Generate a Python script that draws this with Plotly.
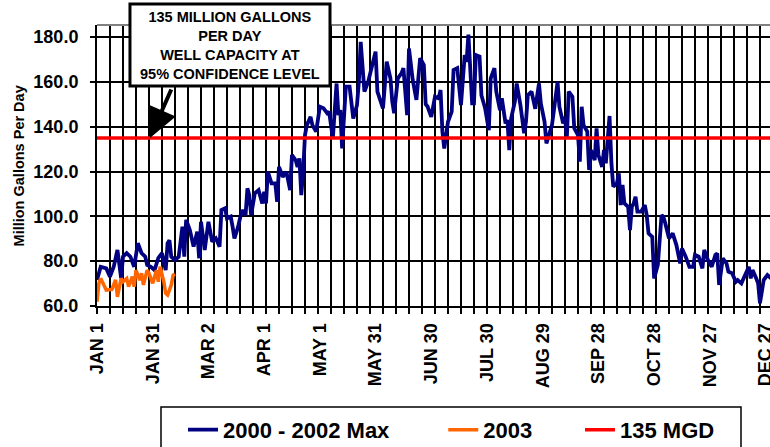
import plotly.graph_objects as go

# ---- data ----
tick_days = [0, 30, 60, 90, 120, 150, 180, 210, 240, 270, 300, 330, 360]
tick_labels = ["JAN 1", "JAN 31", "MAR 2", "APR 1", "MAY 1", "MAY 31", "JUN 30",
               "JUL 30", "AUG 29", "SEP 28", "OCT 28", "NOV 27", "DEC 27"]

max_days = [0, 2, 5, 7, 9, 10, 11, 13, 14, 16, 18, 20, 22, 24, 26, 27, 29, 31, 33, 35,
            37, 38, 39, 40, 42, 44, 46, 47, 48, 50, 52, 54, 55, 56, 58, 60, 62, 64, 66, 67,
            69, 70, 72, 73, 74, 76, 78, 80, 81, 82, 83, 85, 87, 89, 90, 91, 92, 94, 96, 97,
            98, 100, 102, 104, 105, 107, 108, 109, 110, 111, 112, 113, 115, 116, 118, 120, 122, 124, 125, 127,
            128, 129, 130, 131, 132, 133, 134, 136, 138, 140, 141, 142, 144, 146, 148, 150, 151, 152, 154, 156,
            158, 159, 160, 162, 164, 165, 167, 168, 170, 172, 174, 176, 177, 178, 180, 182, 184, 185, 186, 187,
            189, 191, 192, 194, 195, 196, 198, 199, 200, 202, 203, 204, 206, 207, 209, 211, 212, 214, 215, 217,
            218, 220, 221, 222, 223, 225, 226, 228, 230, 231, 232, 234, 236, 238, 239, 241, 242, 244, 245, 248,
            249, 251, 252, 253, 254, 256, 257, 259, 260, 261, 262, 264, 265, 266, 268, 269, 270, 272, 273, 274,
            275, 276, 277, 278, 280, 281, 282, 283, 284, 286, 287, 288, 289, 290, 291, 293, 295, 296, 297, 299,
            300, 302, 304, 305, 306, 308, 310, 312, 314, 315, 317, 319, 321, 322, 324, 326, 327, 329, 331, 333,
            334, 335, 337, 339, 340, 342, 344, 345, 347, 349, 351, 352, 353, 355, 356, 357, 359, 361, 363]
max_values = [71.6, 77.5, 76.8, 73.1, 77.5, 82.0, 85.0, 72.5, 82.0, 83.6, 82.0, 77.5, 88.0, 83.6, 82.0, 78.3, 77.5, 76.0, 81.4, 83.6,
              76.0, 88.0, 89.4, 82.0, 80.5, 82.0, 95.4, 82.0, 98.4, 93.9, 86.5, 93.2, 81.3, 97.6, 85.0, 97.6, 88.7, 90.2, 86.5, 102.8,
              103.6, 99.1, 99.9, 95.4, 90.2, 95.4, 102.8, 100.6, 112.5, 109.5, 100.6, 110.3, 111.7, 105.8, 111.0, 105.8, 119.9, 114.7, 114.7, 106.5,
              122.1, 117.6, 119.9, 111.7, 127.4, 125.0, 122.0, 125.9, 109.5, 119.9, 136.3, 140.7, 144.4, 140.7, 137.8, 148.9, 148.2, 146.0, 146.7, 134.8,
              146.7, 159.3, 145.2, 147.4, 130.3, 145.2, 157.9, 157.9, 143.7, 149.6, 160.0, 177.9, 155.7, 160.0, 167.5, 173.5, 155.7, 153.4, 148.2, 169.0,
              161.6, 151.2, 146.0, 161.6, 163.9, 166.1, 145.2, 174.9, 161.0, 152.0, 170.6, 167.5, 150.0, 149.0, 144.4, 153.4, 152.7, 156.4, 137.8, 130.3,
              142.2, 146.7, 165.3, 166.1, 156.4, 149.7, 172.0, 169.0, 181.1, 150.4, 150.4, 172.0, 171.3, 154.1, 148.2, 138.5, 161.6, 166.1, 155.7, 147.4,
              152.7, 141.5, 143.0, 129.6, 143.7, 151.2, 159.3, 149.7, 137.1, 142.2, 154.1, 155.7, 148.0, 159.3, 150.4, 142.2, 132.6, 138.5, 140.7, 160.0,
              148.9, 141.5, 144.4, 134.8, 155.7, 153.4, 139.3, 136.3, 124.4, 148.9, 140.7, 137.8, 120.7, 129.6, 125.1, 139.3, 127.4, 122.1, 129.6, 123.7,
              134.0, 144.8, 123.7, 113.3, 114.8, 119.2, 105.0, 114.0, 105.8, 104.3, 93.9, 104.3, 105.8, 108.8, 102.1, 102.1, 105.0, 100.6, 92.4, 90.9,
              72.3, 78.3, 100.6, 99.8, 96.9, 90.2, 92.4, 87.2, 79.0, 85.7, 82.0, 77.5, 77.5, 82.8, 82.0, 76.8, 85.0, 80.5, 77.5, 82.8,
              83.5, 69.4, 81.3, 79.0, 75.3, 74.6, 70.8, 71.6, 70.1, 73.8, 77.5, 72.3, 76.0, 72.3, 70.1, 61.2, 71.6, 73.8, 72.3]

y2003_days = [0, 1, 2, 4, 5, 8, 10, 11, 13, 14, 16, 17, 19, 20, 21, 23, 24, 25, 27, 28,
              30, 32, 33, 34, 36, 37, 38, 40, 41, 42]
y2003_values = [61.9, 70.1, 72.3, 68.6, 67.1, 67.4, 71.6, 64.1, 72.3, 70.8, 72.3, 68.6, 73.1, 68.6, 76.0, 71.6, 74.6, 69.4, 76.0, 74.6,
                70.1, 76.0, 70.8, 77.5, 70.8, 65.6, 64.9, 69.4, 73.8, 74.3]

capacity_mgd = 135
capacity_days = [0, 365]

# ---- figure ----
FONT = "Liberation Sans, Arial, sans-serif"
NB = "\u00a0"

fig = go.Figure()
fig.add_trace(go.Scatter(x=max_days, y=max_values, mode="lines", name="2000 - 2002 Max" + NB * 8,
                         line=dict(color="#000080", width=3.8)))
fig.add_trace(go.Scatter(x=y2003_days, y=y2003_values, mode="lines", name="2003" + NB * 7,
                         line=dict(color="#FF6600", width=3.5)))
fig.add_trace(go.Scatter(x=capacity_days, y=[capacity_mgd] * len(capacity_days), mode="lines",
                         name="135 MGD" + NB * 3, line=dict(color="#FF0000", width=3.5)))

fig.update_layout(
    width=770, height=447,
    margin=dict(l=97, r=0, t=25, b=141, pad=0, autoexpand=False),
    paper_bgcolor="white", plot_bgcolor="white",
    font=dict(family=FONT, color="black"),
    showlegend=True,
    legend=dict(orientation="h", x=0.1278, xanchor="left", y=-0.366, yanchor="top",
                font=dict(family=FONT, size=22, weight="bold", color="black"),
                borderwidth=0, bgcolor="rgba(0,0,0,0)",
                itemwidth=30, tracegroupgap=0),
)

fig.update_xaxes(
    range=[0, 362.4], tickmode="array", tickvals=tick_days, ticktext=tick_labels,
    tickangle=-90, ticks="", showgrid=False, zeroline=False,
    showline=True, linecolor="black", linewidth=2,
    tickfont=dict(family=FONT, size=18, weight="bold", color="black"),
    ticklabelstandoff=8, ticklabeloverflow="allow",
    minor=dict(tick0=0, dtick=7, showgrid=True, gridcolor="black", gridwidth=2,
               ticks="outside", ticklen=6, tickcolor="black", tickwidth=1.5),
)
fig.update_yaxes(
    range=[60, 185.4], tick0=60, dtick=20, tickformat=".1f",
    showgrid=True, gridcolor="black", gridwidth=2, zeroline=False,
    ticks="outside", ticklen=5, tickcolor="black", tickwidth=2,
    showline=True, linecolor="black", linewidth=2,
    tickfont=dict(family=FONT, size=18, weight="bold", color="black"),
    ticklabelstandoff=8,
)

# top border of plot area
fig.add_shape(type="line", xref="paper", yref="paper", x0=0, x1=1, y0=1, y1=1,
              line=dict(color="#808080", width=2))
# legend frame
fig.add_shape(type="rect", xref="paper", yref="paper", x0=0.0951, x1=0.9569, y0=-0.62, y1=-0.3594,
              line=dict(color="black", width=1.5), fillcolor="rgba(0,0,0,0)")
# callout box
fig.add_shape(type="rect", xref="paper", yref="paper", x0=0.049, x1=0.3462, y0=0.783, y1=1.0747,
              line=dict(color="black", width=3), fillcolor="white", layer="above")
fig.add_annotation(xref="paper", yref="paper", x=0.1976, y=0.9288, xanchor="center", yanchor="middle",
                   text="135 MILLION GALLONS<br>PER DAY<br>WELL CAPACITY AT<br>95% CONFIDENCE LEVEL",
                   showarrow=False, font=dict(family=FONT, size=14.5, weight="bold", color="black"))
fig.add_annotation(x=28.5, y=capacity_mgd, xref="x", yref="y", text="", showarrow=True,
                   ax=22, ay=-50, arrowhead=2, arrowwidth=4, arrowsize=1.5, arrowcolor="black")
# y-axis title
fig.add_annotation(xref="paper", yref="paper", x=-0.116, y=0.5, xanchor="center", yanchor="middle",
                   text="Million Gallons Per Day", textangle=-90, showarrow=False,
                   font=dict(family=FONT, size=14.5, weight="bold", color="black"))

fig.write_html("out.html", config={"displayModeBar": False},
               post_script="document.body.style.margin='0px';")
